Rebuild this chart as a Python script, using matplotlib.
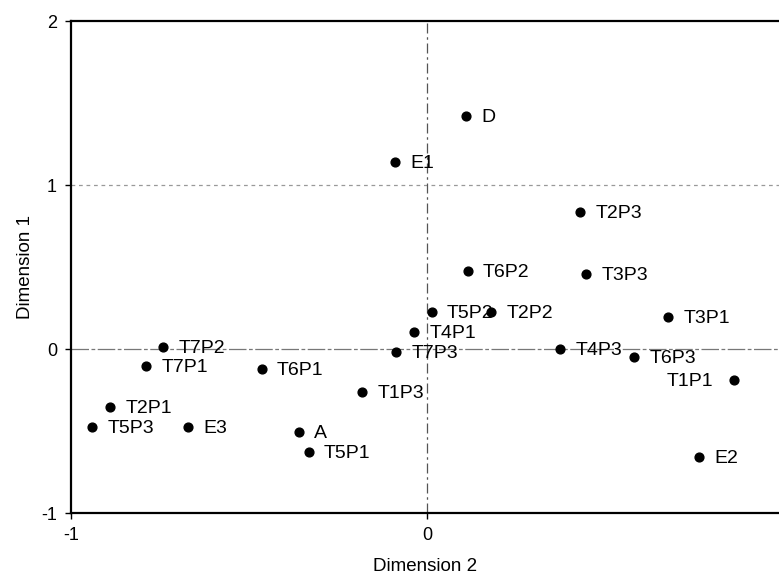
import numpy as np
import matplotlib
matplotlib.use("Agg")
import matplotlib.pyplot as plt

plt.rcParams['font.family'] = ['Liberation Sans', 'DejaVu Sans']
plt.rcParams['axes.unicode_minus'] = False

# point labels and coordinates (Dimension 2 on x, Dimension 1 on y)
labels = ['D', 'E1', 'T2P3', 'T6P2', 'T3P3', 'T3P1', 'T5P2', 'T2P2', 'T4P1',
          'T7P3', 'T4P3', 'T6P3', 'T1P1', 'E2', 'T7P2', 'T7P1', 'T6P1', 'T1P3',
          'T2P1', 'T5P3', 'E3', 'A', 'T5P1']
dim2 = [0.109, -0.091, 0.429, 0.113, 0.446, 0.675, 0.012, 0.179, -0.038,
        -0.088, 0.373, 0.579, 0.859, 0.761, -0.742, -0.790, -0.465, -0.183,
        -0.891, -0.941, -0.671, -0.360, -0.333]
dim1 = [1.423, 1.138, 0.835, 0.476, 0.455, 0.197, 0.227, 0.224, 0.105,
        -0.016, 0.000, -0.051, -0.189, -0.657, 0.014, -0.106, -0.122, -0.260,
        -0.352, -0.474, -0.477, -0.506, -0.630]
left_side = ['T1P1']

fig = plt.figure(figsize=(7.79, 5.74), dpi=100)
ax = fig.add_axes([71/779, 61/574, 708/779, 492/574])

# reference lines
ax.axhline(0, color='#777777', lw=0.9, ls=(0, (14, 2, 3, 2)), zorder=1)
ax.axhline(1, color='#999999', lw=0.9, ls=(0, (3, 3)), zorder=1)
ax.axvline(0, color='#555555', lw=0.9, ls=(0, (8, 3, 2, 3)), zorder=1)

ax.scatter(dim2, dim1, s=40, color='black', zorder=3)

for lab, x, y in zip(labels, dim2, dim1):
    if lab in left_side:
        ax.annotate(lab, (x, y), xytext=(-15, -1), textcoords='offset points',
                    ha='right', va='center', fontsize=14)
    else:
        ax.annotate(lab, (x, y), xytext=(11, -1), textcoords='offset points',
                    ha='left', va='center', fontsize=14)

ax.set_xlim(-1, 0.986)
ax.set_ylim(-1, 2)
ax.set_xticks([-1, 0])
ax.set_yticks([-1, 0, 1, 2])
ax.tick_params(direction='out', length=4, width=1, labelsize=13, pad=6)

ax.spines['right'].set_visible(False)
for s in ['left', 'top', 'bottom']:
    ax.spines[s].set_linewidth(1.6)

ax.set_xlabel('Dimension 2', fontsize=13.5, labelpad=10)
ax.set_ylabel('Dimension 1', fontsize=13.5, labelpad=5)

fig.savefig('out.png', dpi=100)
